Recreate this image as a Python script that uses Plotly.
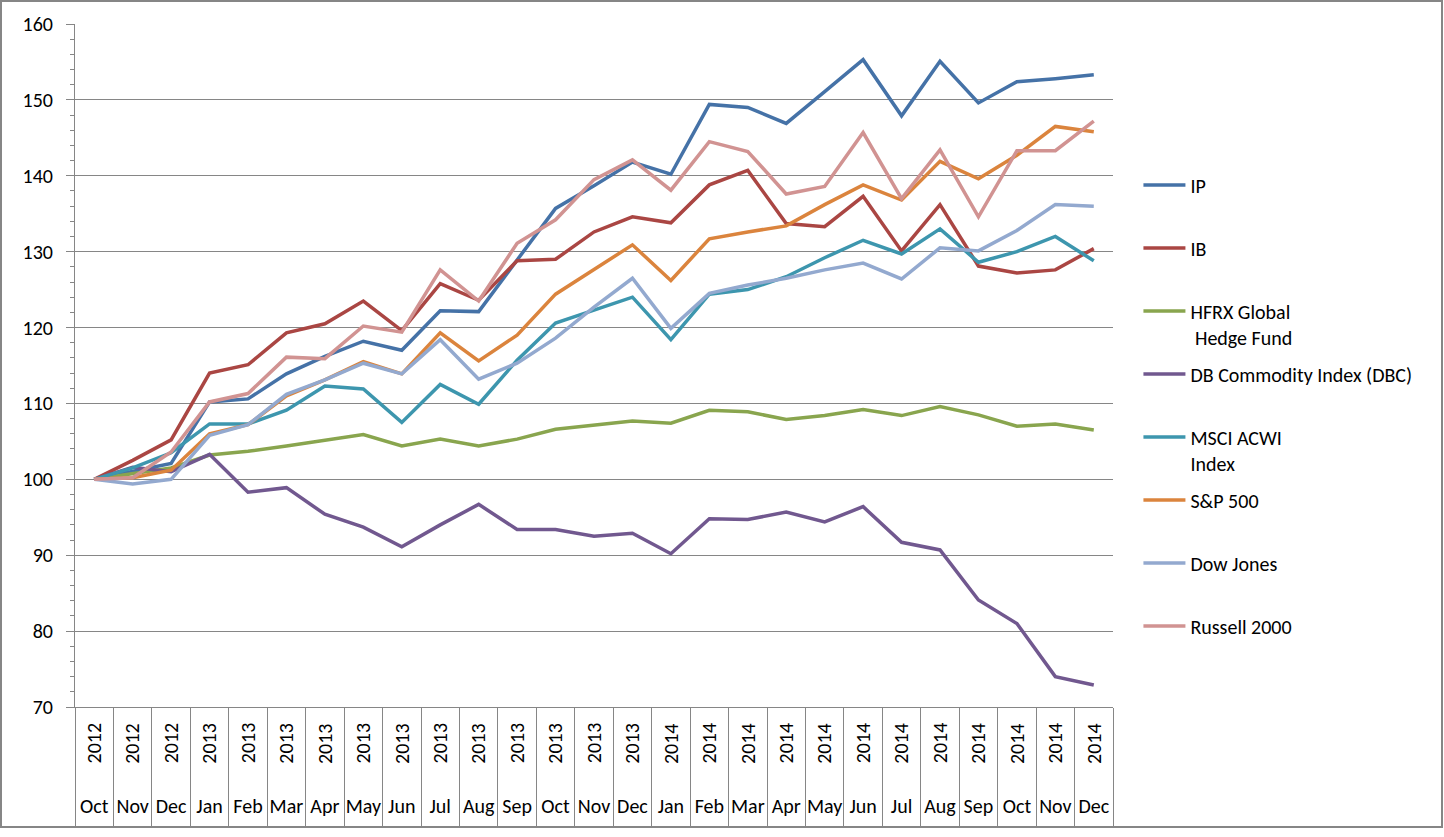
import plotly.graph_objects as go

months = ["Oct", "Nov", "Dec", "Jan", "Feb", "Mar", "Apr", "May", "Jun", "Jul", "Aug", "Sep",
          "Oct", "Nov", "Dec", "Jan", "Feb", "Mar", "Apr", "May", "Jun", "Jul", "Aug", "Sep",
          "Oct", "Nov", "Dec"]
years = ["2012"] * 3 + ["2013"] * 12 + ["2014"] * 12

ip = [100, 101.0, 102.1, 110.2, 110.6, 113.9, 116.2, 118.2, 117.0, 122.2, 122.1, 128.9, 135.7, 138.7,
      141.8, 140.2, 149.4, 149.0, 146.9, 151.1, 155.3, 147.9, 155.1, 149.6, 152.4, 152.8, 153.3]
ib = [100, 102.5, 105.2, 114.0, 115.1, 119.3, 120.5, 123.5, 119.6, 125.8, 123.6, 128.8, 129.0, 132.6,
      134.6, 133.8, 138.8, 140.7, 133.7, 133.3, 137.3, 130.1, 136.2, 128.1, 127.2, 127.6, 130.4]
hfrx = [100, 100.8, 101.5, 103.2, 103.7, 104.4, 105.1, 105.9, 104.4, 105.3, 104.4, 105.3, 106.6, 107.2,
        107.7, 107.4, 109.1, 108.9, 107.9, 108.4, 109.2, 108.4, 109.6, 108.5, 107.0, 107.3, 106.5]
dbc = [100, 101.6, 101.0, 103.3, 98.3, 98.9, 95.4, 93.7, 91.1, 94.0, 96.7, 93.4, 93.4, 92.5,
       92.9, 90.2, 94.8, 94.7, 95.7, 94.4, 96.4, 91.7, 90.7, 84.1, 81.0, 74.0, 72.9]
msci = [100, 101.5, 103.5, 107.3, 107.3, 109.1, 112.3, 111.9, 107.5, 112.5, 109.9, 115.7, 120.6, 122.3,
        124.0, 118.4, 124.4, 125.0, 126.7, 129.2, 131.5, 129.7, 133.0, 128.6, 130.0, 132.0, 128.8]
sp500 = [100, 100.2, 101.2, 106.0, 107.2, 111.0, 113.1, 115.5, 113.9, 119.3, 115.6, 119.0, 124.4, 127.7,
         130.9, 126.2, 131.7, 132.6, 133.4, 136.2, 138.8, 136.8, 141.9, 139.6, 142.7, 146.5, 145.8]
dow = [100, 99.4, 100.0, 105.8, 107.2, 111.2, 113.1, 115.3, 113.9, 118.4, 113.2, 115.3, 118.6, 122.7,
       126.5, 119.9, 124.5, 125.6, 126.5, 127.6, 128.5, 126.4, 130.5, 130.1, 132.8, 136.2, 136.0]
russell = [100, 100.2, 103.6, 110.2, 111.3, 116.1, 115.9, 120.2, 119.4, 127.6, 123.5, 131.1, 134.2, 139.5,
           142.1, 138.1, 144.5, 143.2, 137.6, 138.6, 145.7, 137.0, 143.4, 134.6, 143.3, 143.3, 147.2]

series_names = ["IP", "IB", "HFRX Global<br> Hedge Fund", "DB Commodity Index (DBC)",
                "MSCI ACWI<br>Index", "S&P 500", "Dow Jones", "Russell 2000"]
series_values = [ip, ib, hfrx, dbc, msci, sp500, dow, russell]
series_colors = ["#4572A7", "#AA4643", "#89A54E", "#71588F", "#3D96AE", "#DB843D", "#93A9CF", "#D19392"]

FONT = "Carlito, Calibri, Lato, 'Open Sans', sans-serif"
FS = 20
GRAY = "#868686"

x = list(range(len(months)))

fig = go.Figure()
for name, vals, col in zip(series_names, series_values, series_colors):
    label = name if "<br>" in name else name + "<br>\u00a0"
    fig.add_trace(go.Scatter(
        x=x, y=vals, mode="lines", name=label, legendgroup=name,
        line=dict(color=col, width=3.5),
    ))

annotations = []
for i, yr in enumerate(years):
    annotations.append(dict(
        x=i, y=-0.053, xref="x", yref="paper", text=yr, showarrow=False,
        textangle=-90, font=dict(family=FONT, size=FS, color="black"),
        xanchor="center", yanchor="middle",
    ))

fig.update_layout(
    width=1444, height=837,
    margin=dict(l=75, r=331, t=24, b=130),
    paper_bgcolor="white", plot_bgcolor="white",
    font=dict(family=FONT, size=FS, color="black"),
    showlegend=True,
    legend=dict(
        x=1.0245, y=0.793, xanchor="left", yanchor="top",
        font=dict(family=FONT, size=FS, color="black"),
        tracegroupgap=8, valign="top", itemwidth=42,
        bgcolor="rgba(0,0,0,0)",
    ),
    xaxis=dict(
        range=[-0.5, len(months) - 0.5],
        tickmode="array", tickvals=x, ticktext=months,
        ticks="", showgrid=False, zeroline=False,
        showline=True, linecolor=GRAY, linewidth=1,
        ticklabelstandoff=81,
        tickfont=dict(family=FONT, size=FS, color="black"),
        minor=dict(tickmode="linear", tick0=-0.5, dtick=1, ticks="outside",
                   ticklen=120, tickcolor=GRAY, tickwidth=1, showgrid=False),
    ),
    yaxis=dict(
        range=[70, 160], dtick=10, tick0=70,
        showgrid=True, gridcolor=GRAY, gridwidth=1, zeroline=False,
        showline=True, linecolor=GRAY, linewidth=1,
        ticks="outside", ticklen=8, tickcolor=GRAY,
        ticklabelstandoff=9,
        tickfont=dict(family=FONT, size=FS, color="black"),
        minor=dict(dtick=2, tick0=70, ticks="outside", ticklen=4, tickcolor=GRAY, showgrid=False),
    ),
    yaxis2=dict(
        range=[70, 160], overlaying="y", side="left", showgrid=False, zeroline=False,
        showline=False, showticklabels=False, tickmode="linear", tick0=70, dtick=2,
        ticks="inside", ticklen=5, tickcolor=GRAY,
    ),
    annotations=annotations,
    shapes=[dict(
        type="rect", xref="paper", yref="paper",
        x0=(1 - 75) / 1038, x1=(1442 - 75) / 1038,
        y0=(707 - 827) / 683, y1=(707 - 1) / 683,
        line=dict(color=GRAY, width=2), fillcolor="rgba(0,0,0,0)", layer="below",
    )],
)

fig.write_html("out.html", config={"displayModeBar": False},
               post_script="document.body.style.margin='0';document.body.style.overflow='hidden';")
